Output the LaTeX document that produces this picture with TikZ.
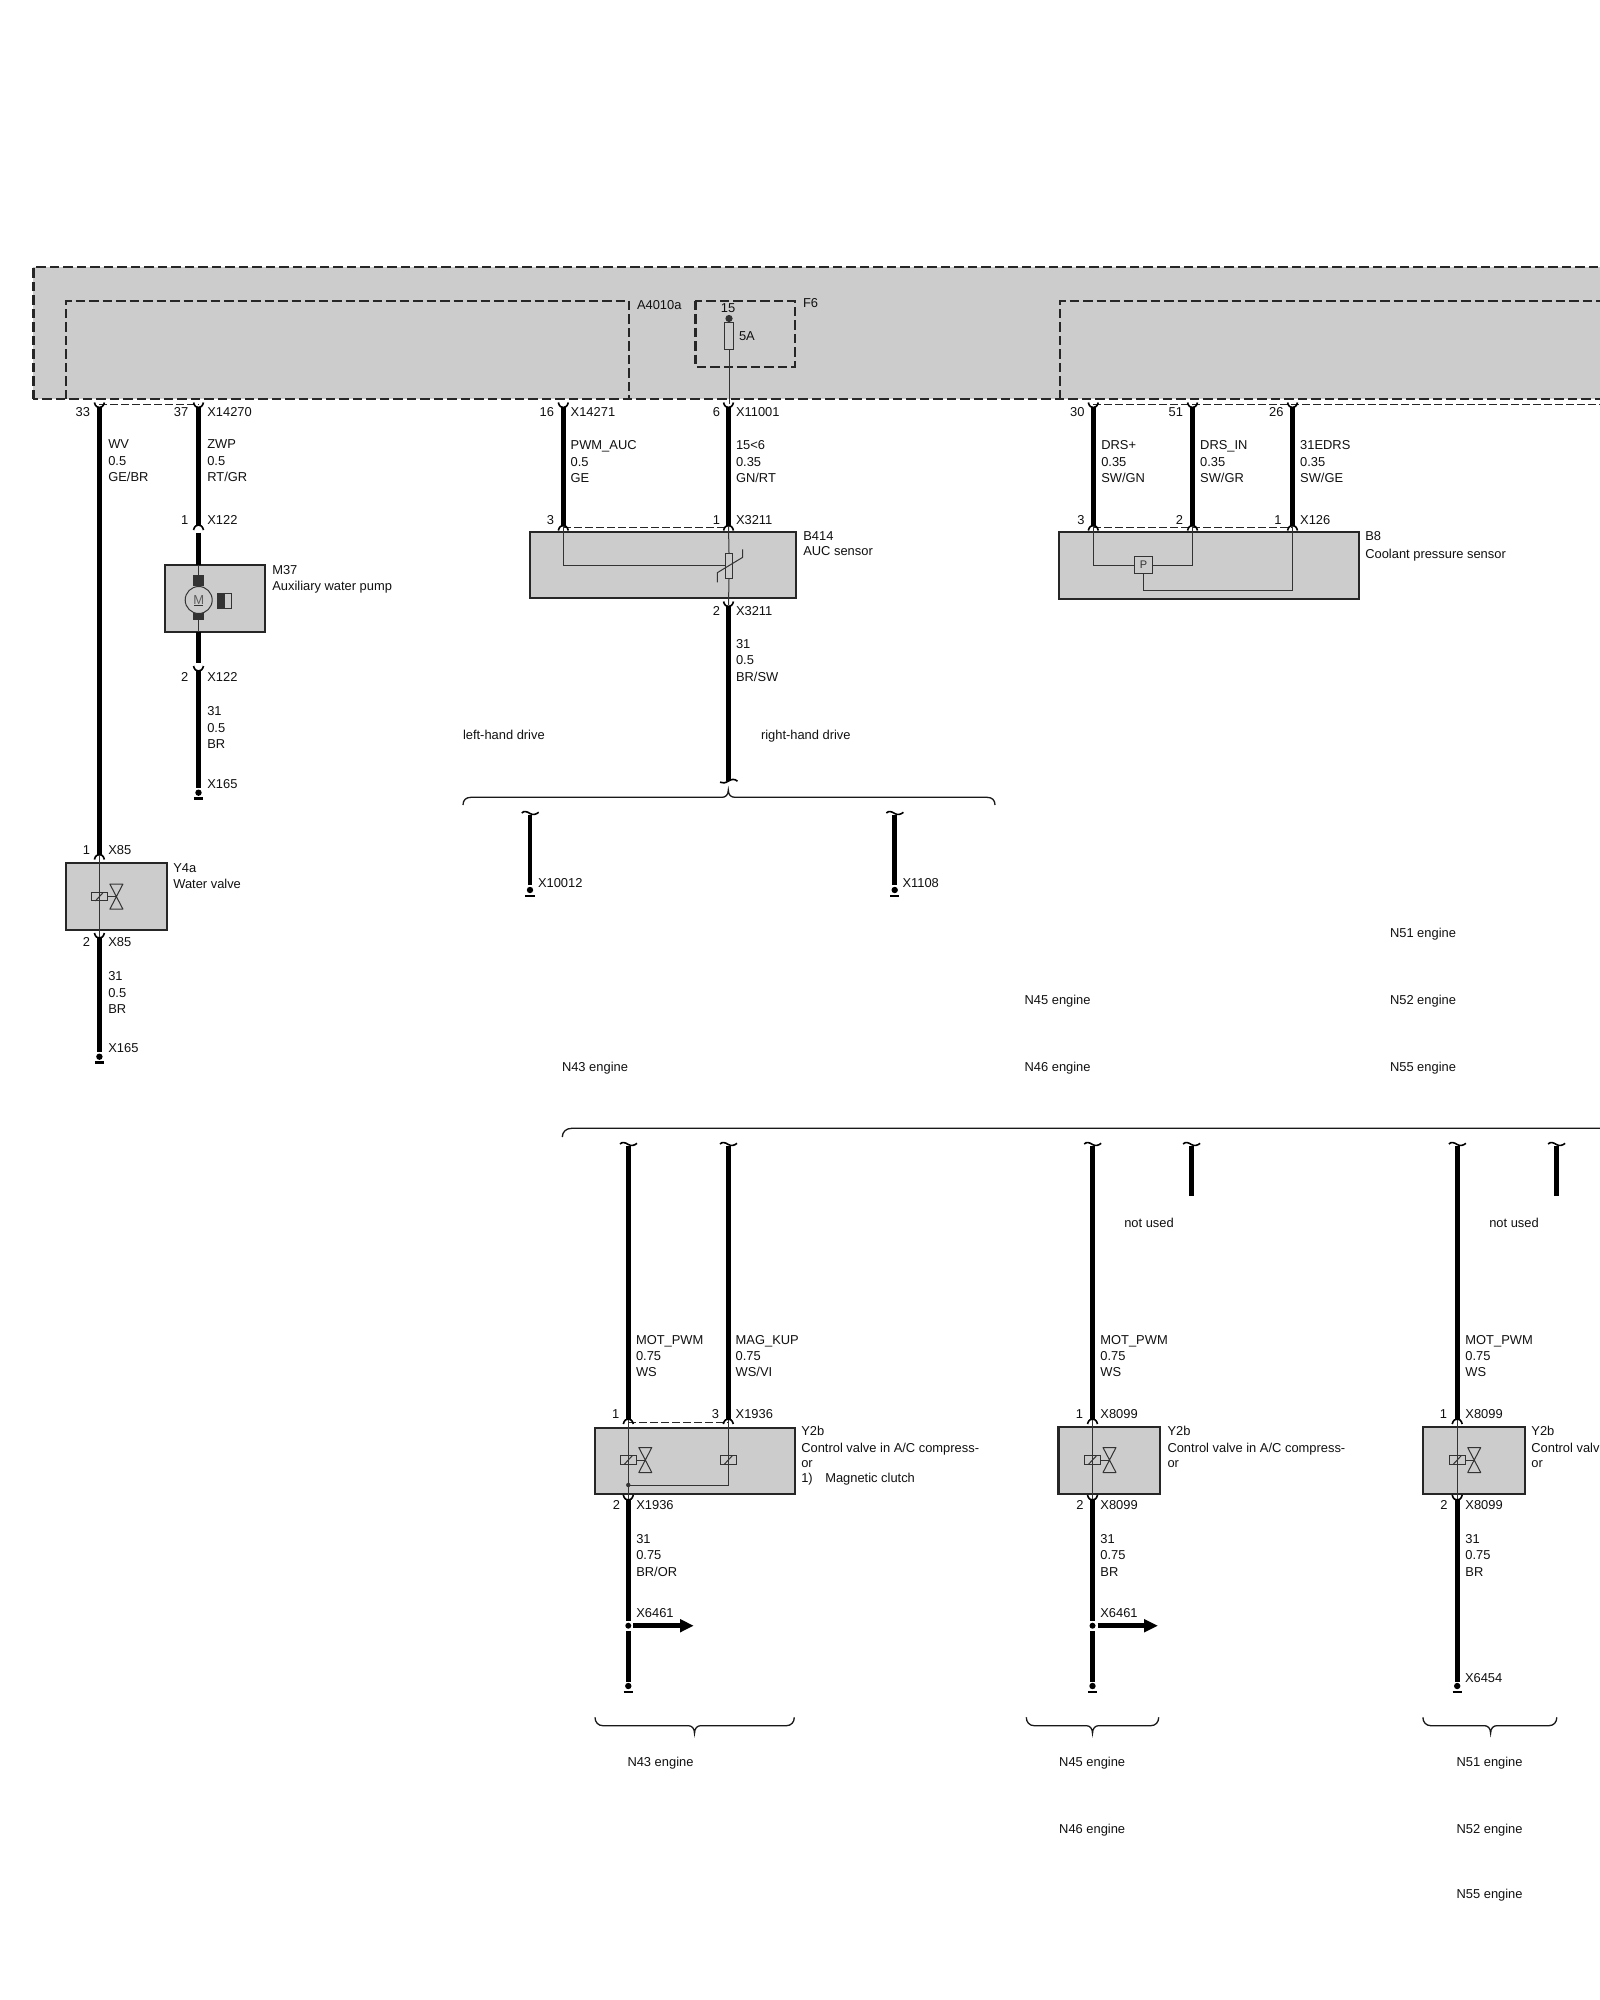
\documentclass[tikz,border=0pt]{standalone}
\usepackage{fontspec}
\setmainfont{Liberation Sans}
\definecolor{panel}{HTML}{CCCCCC}
\definecolor{ink}{HTML}{111111}
\definecolor{thinink}{HTML}{333333}
\tikzset{
  lab/.style={inner sep=0pt,outer sep=0pt,text=ink,yshift=-0.7pt,font=\fontsize{12.9}{15}\selectfont},
  labw/.style={lab,anchor=base west},
  labe/.style={lab,anchor=base east},
  wirethick/.style={line width=4.7pt,color=black},
  thinwire/.style={line width=1pt,color=thinink},
  pinarc/.style={line width=1.6pt,color=black},
  heavydash/.style={line width=2.4pt,color=black!85,dash pattern=on 9.5pt off 4pt},
  lightdash/.style={line width=1.4pt,color=black!85,dash pattern=on 7.5pt off 3.5pt},
  compbox/.style={draw=black!85,fill=panel,line width=2.3pt,anchor=north west,inner sep=0pt,outer sep=0pt},
  brace/.style={line width=1.3pt,color=black!90},
}
% name, x, y1, y2
\newcommand\wirerun[4]{\coordinate (#1-a) at (#2,#3);\coordinate (#1-b) at (#2,#4);\draw[wirethick] (#1-a) -- (#1-b);}
% cup open upward: lowest point at x,y
\newcommand\cupp[2]{\draw[pinarc] ({#1-5},{#2-5}) .. controls ({#1-4},{#2-1}) and ({#1-2},#2) .. (#1,#2) .. controls ({#1+2},#2) and ({#1+4},{#2-1}) .. ({#1+5},{#2-5});}
% cap open downward: highest point at x,y
\newcommand\capp[2]{\draw[pinarc] ({#1-5},{#2+5}) .. controls ({#1-4},{#2+1}) and ({#1-2},#2) .. (#1,#2) .. controls ({#1+2},#2) and ({#1+4},{#2+1}) .. ({#1+5},{#2+5});}
% tilde on top of a wire whose top is x,y
\newcommand\tiltop[2]{\draw[pinarc] ({#1-8.3},{#2-2}) .. controls ({#1-6},{#2-4.5}) and ({#1-3},{#2-3.5}) .. (#1,{#2-1.5}) .. controls ({#1+3},{#2+0.3}) and ({#1+6},{#2-0.5}) .. ({#1+8.7},{#2-2.7});}
% tilde at the bottom of a wire
\newcommand\tilbot[2]{\draw[pinarc] ({#1-8.5},{#2+2.2}) .. controls ({#1-6},{#2+3.6}) and ({#1-3},{#2+3}) .. (#1,{#2+1}) .. controls ({#1+3},{#2-1}) and ({#1+6},{#2-1.4}) .. ({#1+9},{#2+1.2});}
% ground end: dot y
\newcommand\gndend[2]{\fill[black] (#1,#2) circle (3.2pt);\draw[line width=2.6pt,black] ({#1-4.6},{#2+6}) -- ({#1+4.6},{#2+6});}
% solenoid valve, wire x, centre y
\newcommand\solenoid[2]{\draw[thinwire] ({#1-8.2},{#2-4.3}) rectangle ({#1+8.2},{#2+4.3});\draw[thinwire] ({#1-4},{#2+4.3}) -- ({#1+4},{#2-4.3});}
\newcommand\hourglass[2]{\draw[thinwire] ({#1+8.2},#2) -- ({#1+17},#2);\draw[thinwire,line join=round] ({#1+17},#2) -- ({#1+10.5},{#2-12.5}) -- ({#1+23.5},{#2-12.5}) -- cycle;\draw[thinwire,line join=round] ({#1+17},#2) -- ({#1+10.5},{#2+12.5}) -- ({#1+23.5},{#2+12.5}) -- cycle;}
% brace pointing down: left x, right x, centre x, tips y
\newcommand\bracedown[3]{\draw[brace] (#1,1717.3) .. controls (#1,1722) and ({#1+3},1725.7) .. ({#1+8},1725.7) -- ({#3-6},1725.7) .. controls ({#3-3},1725.7) and (#3,1728) .. (#3,1733.3) .. controls (#3,1728) and ({#3+3},1725.7) .. ({#3+6},1725.7) -- ({#2-8},1725.7) .. controls ({#2-3},1725.7) and (#2,1722) .. (#2,1717.3);}
% three line wire label: name, x, y1, a, b, c
\newcommand\wlabel[6]{\node[labw] (#1a) at (#2,#3) {#4};\node[labw] (#1b) at (#2,{#3+16.3}) {#5};\node[labw] (#1c) at (#2,{#3+32.6}) {#6};}
\begin{document}
\begin{tikzpicture}[x=1pt,y=-1pt]
\useasboundingbox (0,0) rectangle (1600,2000);
\clip (0,0) rectangle (1600,2000);
\fill[white] (0,0) rectangle (1600,2000);

% control unit
\draw[heavydash,fill=panel] (33.3,399) -- (33.3,267) -- (1625,267) -- (1625,399) -- cycle;
\draw[heavydash] (66,399) -- (66,300.7) -- (629,300.7) -- (629,399);
\draw[heavydash] (1060,399) -- (1060,300.7) -- (1625,300.7);
\draw[heavydash] (695.3,300.7) rectangle (794.7,366.7);
\node[labw] (a4010a) at (637,309) {A4010a};
\node[labw] (f6) at (803,306.7) {F6};
\node[lab,anchor=base] (n15) at (728,311.7) {15};
\node[labw] (n5a) at (739,340) {5A};
\fill[thinink] (729,318.5) circle (3.6pt);
\node[draw=thinink,line width=1pt,minimum width=8.8pt,minimum height=27.5pt,inner sep=0pt,outer sep=0pt] (fuse) at (729,335.8) {};
\coordinate (p6up) at (729,404);
\draw[thinwire] (fuse.south) -- (p6up);
\draw[thinwire] (729,318.5) -- (fuse.north);

% thin dashed pin groups
\draw[lightdash] (99.4,404.5) -- (198.5,404.5);
\draw[lightdash] (1093.3,404.7) -- (1625,404.7);
\draw[lightdash] (563.3,527.3) -- (728.5,527.3);
\draw[lightdash] (1093.3,527.3) -- (1292.5,527.3);
\draw[lightdash] (628.3,1422.3) -- (728.3,1422.3);

% ----- Y4a
\wirerun{w33}{99.4}{407}{854.5}
\cupp{99.4}{407.5}
\node[labe] (n33) at (90,415.7) {33};
\wlabel{wv}{108.3}{448}{WV}{0.5}{GE/BR}
\capp{99.4}{854.5}
\node[labe] (y4p1) at (90,854) {1};
\node[labw] (y4x1) at (108.3,854) {X85};
\node[compbox,minimum width=100.7pt,minimum height=67pt] (y4a) at (66.3,863.3) {};
\coordinate (y4t) at (99.4,855);\coordinate (y4b) at (99.4,938);
\draw[thinwire] (y4t) -- (y4b);
\solenoid{99.4}{896.6}\hourglass{99.4}{896.6}
\node[labw] (y4n) at (173.3,871.7) {Y4a};
\node[labw] (y4d) at (173.3,888) {Water valve};
\cupp{99.4}{938}
\node[labe] (y4p2) at (90,945.7) {2};
\node[labw] (y4x2) at (108.3,945.7) {X85};
\wirerun{w85}{99.4}{938}{1051.7}
\wlabel{y4w}{108.3}{980}{31}{0.5}{BR}
\node[labw] (y4g) at (108.3,1051.7) {X165};
\gndend{99.4}{1056.7}

% ----- M37
\wirerun{w37}{198.5}{407}{525}
\cupp{198.5}{407.5}
\node[labe] (n37) at (188.3,415.7) {37};
\node[labw] (x14270) at (207.3,415.7) {X14270};
\wlabel{zwp}{207.3}{448}{ZWP}{0.5}{RT/GR}
\capp{198.5}{525}
\node[labe] (m37p1) at (188.3,524) {1};
\node[labw] (m37x1) at (207.3,524) {X122};
\node[compbox,minimum width=100pt,minimum height=66.7pt] (m37) at (165,565) {};
\wirerun{m37w1}{198.5}{532.7}{565}
\wirerun{m37w2}{198.5}{631.7}{663}
\coordinate (m37t) at (198.5,565);\coordinate (m37b) at (198.5,631.7);
\draw[thinwire] (m37t) -- (m37b);
\fill[thinink] (193.2,575) rectangle (204,585.7);
\fill[thinink] (193.2,611.7) rectangle (204,620);
\node[circle,draw=thinink,fill=panel,line width=1pt,minimum size=27pt,inner sep=0pt] (motor) at (198.7,600) {};
\node[inner sep=0pt,text=thinink!80,font=\fontsize{13}{13}\selectfont,anchor=base] (mot) at (198.7,604) {M};
\draw[thinink,line width=1pt] (194,605.6) -- (203.4,605.6);
\fill[thinink] (217.3,593.3) rectangle (225,608.3);
\draw[thinink,line width=1pt] (217.3,593.3) rectangle (231.7,608.3);
\node[labw] (m37n) at (272.3,574) {M37};
\node[labw] (m37d) at (272.3,590) {Auxiliary water pump};
\cupp{198.5}{671}
\node[labe] (m37p2) at (188.3,680.7) {2};
\node[labw] (m37x2) at (207.3,680.7) {X122};
\wirerun{m37w3}{198.5}{671}{787.7}
\wlabel{m37l}{207.3}{715}{31}{0.5}{BR}
\node[labw] (m37g) at (207.3,787.7) {X165};
\gndend{198.5}{792.7}

% ----- B414
\wirerun{w16}{563.3}{407}{525.5}
\cupp{563.3}{407.5}
\node[labe] (n16) at (554,415.7) {16};
\node[labw] (x14271) at (570.7,415.7) {X14271};
\wlabel{auc}{570.7}{449}{PWM\_AUC}{0.5}{GE}
\wirerun{w6}{728.5}{407}{525.5}
\cupp{728.5}{407.5}
\node[labe] (n6) at (720,415.7) {6};
\node[labw] (x11001) at (736,415.7) {X11001};
\wlabel{n156}{736}{449}{15<6}{0.35}{GN/RT}
\capp{563.3}{525.5}\capp{728.5}{525.5}
\node[labe] (b3) at (554,524) {3};
\node[labe] (b1) at (720,524) {1};
\node[labw] (x3211a) at (736,524) {X3211};
\node[compbox,minimum width=266pt,minimum height=66pt] (b414) at (530,532.3) {};
\coordinate (b414a) at (563.3,526);\coordinate (b414c) at (728.5,526);\coordinate (b414d) at (728.5,605);
\node[draw=thinink,line width=1pt,minimum width=7.4pt,minimum height=25pt,inner sep=0pt] (res) at (729,565.8) {};
\draw[thinwire] (b414c) -- (res.north);
\draw[thinwire] (res.south) -- (b414d);
\draw[thinwire] (b414a) |- (res.west);
\draw[thinwire] (717.3,582.3) -- (717.3,572.7) -- (742.7,557.3) -- (742.7,549.3);
\node[labw] (b414n) at (803.3,540) {B414};
\node[labw] (b414t) at (803.3,555) {AUC sensor};
\cupp{728.5}{606.5}
\node[labe] (b2) at (720,614.7) {2};
\node[labw] (x3211b) at (736,614.7) {X3211};
\wirerun{wb}{728.5}{606}{780.5}
\wlabel{bw}{736}{647.7}{31}{0.5}{BR/SW}
\tilbot{728.5}{780}
\node[labw] (lhd) at (463,739) {left-hand drive};
\node[labw] (rhd) at (761,739) {right-hand drive};
\draw[brace] (463,805) .. controls (463,800) and (466,797.3) .. (471,797.3) -- (722,797.3) .. controls (725.5,797.3) and (728.3,795) .. (728.3,790) .. controls (728.3,795) and (731,797.3) .. (735,797.3) -- (987,797.3) .. controls (992,797.3) and (995,800) .. (995,805);
\tiltop{530}{815}
\wirerun{wl}{530}{814.5}{885}
\node[labw] (x10012) at (538,886.7) {X10012};
\gndend{530}{890}
\tiltop{894.7}{815}
\wirerun{wr}{894.7}{814.5}{885}
\node[labw] (x1108) at (902.5,886.7) {X1108};
\gndend{894.7}{890}

% ----- B8
\wirerun{d1}{1093.3}{407}{525.5}\wirerun{d2}{1192.5}{407}{525.5}\wirerun{d3}{1292.5}{407}{525.5}
\cupp{1093.3}{407.5}\cupp{1192.5}{407.5}\cupp{1292.5}{407.5}
\capp{1093.3}{525.5}\capp{1192.5}{525.5}\capp{1292.5}{525.5}
\node[labe] (n30) at (1084.5,415.7) {30};
\node[labe] (n51) at (1183,415.7) {51};
\node[labe] (n26) at (1283.5,415.7) {26};
\wlabel{drsp}{1101.3}{449}{DRS+}{0.35}{SW/GN}
\wlabel{drsi}{1200.2}{449}{DRS\_IN}{0.35}{SW/GR}
\wlabel{drsg}{1300.2}{449}{31EDRS}{0.35}{SW/GE}
\node[labe] (b83) at (1084.5,524) {3};
\node[labe] (b82) at (1183,524) {2};
\node[labe] (b81) at (1281.6,524) {1};
\node[labw] (x126) at (1300.2,524) {X126};
\node[compbox,minimum width=300.3pt,minimum height=66.7pt] (b8) at (1058.7,532.3) {};
\node[draw=thinink,line width=1pt,minimum width=18.1pt,minimum height=16.6pt,inner sep=0pt,text=thinink,font=\fontsize{11}{11}\selectfont] (psens) at (1143.5,565) {P};
\coordinate (b8a) at (1093.3,526);\coordinate (b8b) at (1192.5,526);\coordinate (b8c) at (1292.5,526);
\draw[thinwire] (b8a) |- (psens.west);
\draw[thinwire] (b8b) |- (psens.east);
\draw[thinwire] (psens.south) |- (1292.5,590.3) -- (b8c);
\node[labw] (b8n) at (1365.3,540) {B8};
\node[labw] (b8t) at (1365.3,557.7) {Coolant pressure sensor};

% ----- engine labels, middle
\node[labw] (e51a) at (1390,936.8) {N51 engine};
\node[labw] (e52a) at (1390,1004) {N52 engine};
\node[labw] (e55a) at (1390,1071) {N55 engine};
\node[labw] (e45a) at (1024.6,1004) {N45 engine};
\node[labw] (e46a) at (1024.6,1071) {N46 engine};
\node[labw] (e43a) at (562,1071) {N43 engine};
\draw[brace] (562.3,1137) .. controls (562.3,1132) and (566,1128.3) .. (571.7,1128.3) -- (1625,1128.3);

% ----- Y2b N43
\tiltop{628.3}{1146}\tiltop{728.3}{1146}
\wirerun{y1}{628.3}{1145.5}{1419}\wirerun{y2}{728.3}{1145.5}{1419}
\wlabel{y1l}{636}{1343.3}{MOT\_PWM}{0.75}{WS}
\wlabel{y2l}{735.7}{1343.3}{MAG\_KUP}{0.75}{WS/VI}
\capp{628.3}{1419}\capp{728.3}{1419}
\node[labe] (y1p) at (619.3,1417.7) {1};
\node[labe] (y3p) at (719,1417.7) {3};
\node[labw] (x1936a) at (735.7,1417.7) {X1936};
\node[compbox,minimum width=200pt,minimum height=66.3pt] (y2n43) at (595,1427.7) {};
\coordinate (n43t) at (628.3,1420);\coordinate (n43b) at (628.3,1500);\coordinate (n43c) at (728.3,1420);\coordinate (n43j) at (628.3,1485);
\draw[thinwire] (n43t) -- (n43b);
\draw[thinwire] (n43j) -| (n43c);
\fill[thinink] (n43j) circle (2.2pt);
\solenoid{628.3}{1460}\hourglass{628.3}{1460}
\solenoid{728.3}{1460}
\node[labw] (y2a) at (801.3,1435) {Y2b};
\node[labw] (y2b) at (801.3,1452) {Control valve in A/C compress-};
\node[labw] (y2c) at (801.3,1466.7) {or};
\node[labw] (y2d) at (801.3,1481.7) {1)};
\node[labw] (y2e) at (825.3,1481.7) {Magnetic clutch};
\cupp{628.3}{1500}
\node[labe] (y2p) at (620,1509) {2};
\node[labw] (x1936b) at (636.3,1509) {X1936};
\wirerun{y3}{628.3}{1500}{1620.7}
\wlabel{y3l}{636.3}{1542.7}{31}{0.75}{BR/OR}
\node[labw] (x6461a) at (636.3,1616.7) {X6461};
\fill[black] (628.3,1625.7) circle (3pt);
\wirerun{y4}{628.3}{1631}{1681.7}
\gndend{628.3}{1686}
\coordinate (ar1a) at (633.3,1625.7);\coordinate (ar1b) at (680,1625.7);
\draw[wirethick] (ar1a) -- (ar1b);
\fill[black] (680,1618.9) -- (693.3,1625.7) -- (680,1632.5) -- cycle;
\bracedown{595}{794.3}{694.5}
\node[labw] (e43b) at (627.5,1765.7) {N43 engine};

% ----- Y2b N45/N46
\tiltop{1092.5}{1146}\tiltop{1191.4}{1146}
\wirerun{z1}{1092.5}{1145.5}{1419}\wirerun{z2}{1191.4}{1145.5}{1195.7}
\node[labw] (nu1) at (1124.3,1226.7) {not used};
\wlabel{z1l}{1100.4}{1343.3}{MOT\_PWM}{0.75}{WS}
\capp{1092.5}{1419}
\node[labe] (z1p) at (1083,1417.7) {1};
\node[labw] (x8099a) at (1100.4,1417.7) {X8099};
\node[compbox,minimum width=101.4pt,minimum height=66.7pt] (y2n45) at (1058.6,1427.3) {};
\coordinate (n45t) at (1092.5,1420);\coordinate (n45b) at (1092.5,1500);
\draw[thinwire] (n45t) -- (n45b);
\solenoid{1092.5}{1460}\hourglass{1092.5}{1460}
\node[labw] (z2a) at (1167.5,1435) {Y2b};
\node[labw] (z2b) at (1167.5,1452) {Control valve in A/C compress-};
\node[labw] (z2c) at (1167.5,1466.7) {or};
\cupp{1092.5}{1500}
\node[labe] (z2p) at (1083.6,1509) {2};
\node[labw] (x8099b) at (1100.4,1509) {X8099};
\wirerun{z3}{1092.5}{1500}{1620.7}
\wlabel{z3l}{1100.4}{1542.7}{31}{0.75}{BR}
\node[labw] (x6461b) at (1100.3,1616.7) {X6461};
\fill[black] (1092.5,1625.7) circle (3pt);
\wirerun{z4}{1092.5}{1631}{1681.7}
\gndend{1092.5}{1686}
\coordinate (ar2a) at (1097.7,1625.7);\coordinate (ar2b) at (1144,1625.7);
\draw[wirethick] (ar2a) -- (ar2b);
\fill[black] (1144,1618.9) -- (1157.6,1625.7) -- (1144,1632.5) -- cycle;
\bracedown{1026.3}{1158.7}{1092.5}
\node[labw] (e45b) at (1059.2,1765.7) {N45 engine};
\node[labw] (e46b) at (1059.2,1832.7) {N46 engine};

% ----- Y2b N51/N52/N55
\tiltop{1457.2}{1146}\tiltop{1556.4}{1146}
\wirerun{u1}{1457.2}{1145.5}{1419}\wirerun{u2}{1556.4}{1145.5}{1195.7}
\node[labw] (nu2) at (1489.3,1226.7) {not used};
\wlabel{u1l}{1465.4}{1343.3}{MOT\_PWM}{0.75}{WS}
\capp{1457.2}{1419}
\node[labe] (u1p) at (1447,1417.7) {1};
\node[labw] (x8099c) at (1465.4,1417.7) {X8099};
\node[compbox,minimum width=101.8pt,minimum height=66.7pt] (y2n51) at (1423.2,1427.3) {};
\coordinate (n51t) at (1457.2,1420);\coordinate (n51b) at (1457.2,1500);
\draw[thinwire] (n51t) -- (n51b);
\solenoid{1457.2}{1460}\hourglass{1457.2}{1460}
\node[labw] (u2a) at (1531.4,1435) {Y2b};
\node[labw] (u2b) at (1531.4,1452) {Control valve in A/C compress-};
\node[labw] (u2c) at (1531.4,1466.7) {or};
\cupp{1457.2}{1500}
\node[labe] (u2p) at (1447.6,1509) {2};
\node[labw] (x8099d) at (1465.4,1509) {X8099};
\wirerun{u3}{1457.2}{1500}{1681.7}
\wlabel{u3l}{1465.4}{1542.7}{31}{0.75}{BR}
\node[labw] (x6454) at (1465,1681.7) {X6454};
\gndend{1457.2}{1686}
\bracedown{1422.9}{1556.8}{1490.6}
\node[labw] (e51b) at (1456.6,1765.7) {N51 engine};
\node[labw] (e52b) at (1456.6,1832.7) {N52 engine};
\node[labw] (e55b) at (1456.6,1897.7) {N55 engine};
\end{tikzpicture}
\end{document}
